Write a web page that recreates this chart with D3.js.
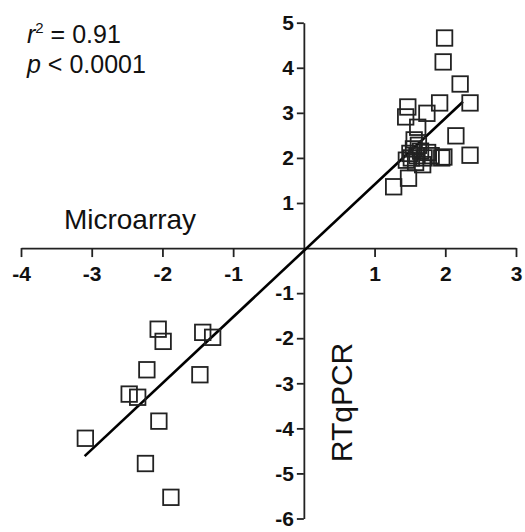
<!DOCTYPE html>
<html>
<head>
<meta charset="utf-8">
<script src="https://cdn.jsdelivr.net/npm/d3@7"></script>
<style>
  html, body { margin: 0; padding: 0; background: #fff; }
  svg { display: block; }
  text { font-family: "Liberation Sans", Arial, sans-serif; }
</style>
</head>
<body>
<svg id="chart" width="525" height="532"></svg>
<script>
// Microarray (x) vs RTqPCR (y) log fold changes
const microarray = [
  -2.06, -1.99, -1.43, -1.29, -2.22, -1.47, -2.47, -2.35, -2.05, -3.09, -2.24, -1.88,
  1.99, 1.97, 2.21, 2.35, 1.92, 2.15, 2.35, 1.98, 1.95, 1.47, 1.44, 1.74, 1.61, 1.48, 1.27,
  1.45, 1.50, 1.55, 1.60, 1.65, 1.70, 1.58, 1.52, 1.62, 1.75, 1.68, 1.56, 1.80
];
const rtqpcr = [
  -1.80, -2.07, -1.87, -1.98, -2.70, -2.81, -3.24, -3.31, -3.84, -4.22, -4.78, -5.53,
  4.66, 4.13, 3.64, 3.22, 3.22, 2.49, 2.06, 2.02, 2.00, 3.13, 2.91, 2.99, 2.68, 1.55, 1.36,
  1.95, 2.10, 2.20, 2.05, 2.15, 2.00, 1.90, 2.00, 2.28, 2.12, 1.85, 2.40, 2.05
];
const xTicks = [-4, -3, -2, -1, 1, 2, 3];
const yTicks = [-6, -5, -4, -3, -2, -1, 1, 2, 3, 4, 5];
const xDomain = [-4, 3];
const yDomain = [-6, 5];
const fitSlope = [1.47];
const fitIntercept = [-0.06];
const fitRange = [-3.1, 2.25];

const svg = d3.select("#chart");
const x = d3.scaleLinear().domain(xDomain).range([21, 516]);
const y = d3.scaleLinear().domain(yDomain).range([518.5, 22.7]);

const fmt = d => (d < 0 ? "-" + Math.abs(d) : String(d));

// X axis through y = 0
const gx = svg.append("g")
  .attr("transform", `translate(0,${y(0)})`)
  .call(d3.axisBottom(x).tickValues(xTicks).tickSize(9).tickPadding(9).tickSizeOuter(0).tickFormat(fmt));
// Y axis through x = 0
const gy = svg.append("g")
  .attr("transform", `translate(${x(0)},0)`)
  .call(d3.axisLeft(y).tickValues(yTicks).tickSize(7).tickPadding(3).tickSizeOuter(0).tickFormat(fmt));

[gx, gy].forEach(g => {
  g.select(".domain").attr("stroke", "#222").attr("stroke-width", 1.8);
  g.selectAll(".tick line").attr("stroke", "#222").attr("stroke-width", 1.8);
  g.selectAll(".tick text")
    .attr("fill", "#111")
    .style("font-size", "21px")
    .style("font-weight", "bold")
    .style("font-family", "'Liberation Sans', Arial, sans-serif");
});

// Regression line
const fitX = fitRange;
svg.append("line")
  .attr("x1", x(fitX[0])).attr("y1", y(fitSlope[0] * fitX[0] + fitIntercept[0]))
  .attr("x2", x(fitX[1])).attr("y2", y(fitSlope[0] * fitX[1] + fitIntercept[0]))
  .attr("stroke", "#000").attr("stroke-width", 2.6);

// Points (open squares)
const pts = microarray.map((v, i) => ({ x: v, y: rtqpcr[i] }));
const s = 15.5;
svg.append("g").selectAll("rect").data(pts).join("rect")
  .attr("x", d => x(d.x) - s / 2)
  .attr("y", d => y(d.y) - s / 2)
  .attr("width", s).attr("height", s)
  .attr("fill", "none")
  .attr("stroke", "#222")
  .attr("stroke-width", 1.8);

// Axis titles
svg.append("text")
  .attr("x", 130).attr("y", 229)
  .attr("text-anchor", "middle")
  .style("font-size", "28px")
  .attr("fill", "#111")
  .text("Microarray");

svg.append("text")
  .attr("transform", `translate(352,402.5) rotate(-90)`)
  .attr("text-anchor", "middle")
  .style("font-size", "30px")
  .attr("fill", "#111")
  .text("RTqPCR");

// Stats
const t1 = svg.append("text").attr("x", 27).attr("y", 43).style("font-size", "25px").attr("fill", "#111");
t1.append("tspan").style("font-style", "italic").text("r");
t1.append("tspan").attr("dy", -10).style("font-size", "15px").text("2");
t1.append("tspan").attr("dy", 10).text(" = 0.91");

const t2 = svg.append("text").attr("x", 27).attr("y", 73).style("font-size", "25px").attr("fill", "#111");
t2.append("tspan").style("font-style", "italic").text("p");
t2.append("tspan").text(" < 0.0001");
</script>
</body>
</html>
